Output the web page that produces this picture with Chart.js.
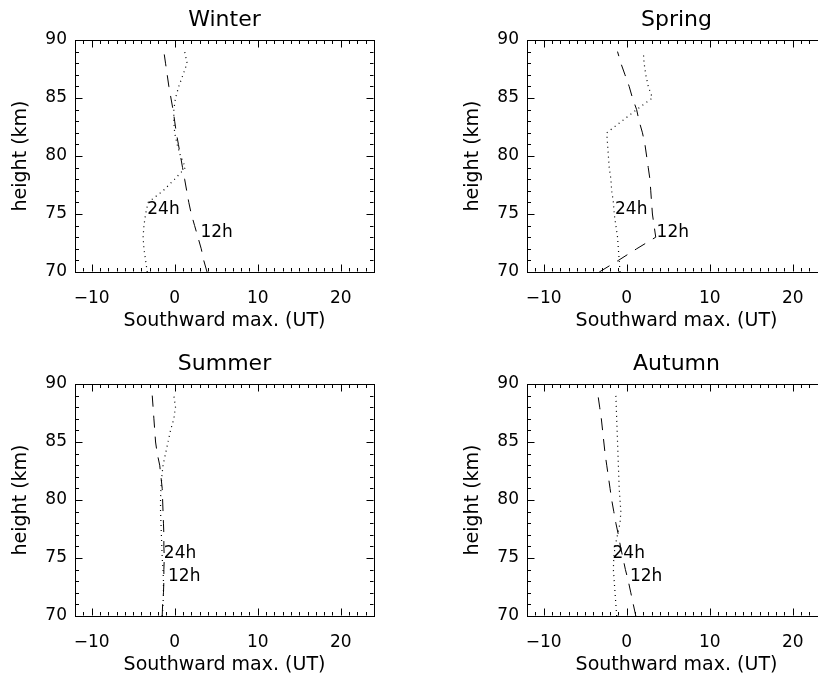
<!DOCTYPE html>
<html>
<head>
<meta charset="utf-8">
<title>Southward max. profiles</title>
<script src="https://cdn.jsdelivr.net/npm/chart.js@4.4.1/dist/chart.umd.min.js"></script>
<style>
  html, body { margin: 0; padding: 0; background: #fff; overflow: hidden; width: 818px; height: 678px; }
  canvas { position: absolute; }
</style>
</head>
<body>
<canvas id="winter" width="449" height="340" style="left:0px;top:0px"></canvas>
<canvas id="spring" width="449" height="340" style="left:452px;top:0px"></canvas>
<canvas id="summer" width="449" height="340" style="left:0px;top:344px"></canvas>
<canvas id="autumn" width="449" height="340" style="left:452px;top:344px"></canvas>
<script>
// heights (km), bottom to top
var heights = [70, 71, 72, 73, 74, 75, 76, 77, 78, 79, 80, 81, 82, 83, 84, 85, 86, 87, 88, 89];

// southward max. time (UT), one value per height
var winter12h = [3.9, 3.5, 3.2, 2.8, 2.4, 2.0, 1.7, 1.45, 1.2, 0.95, 0.7, 0.45, 0.2, 0.0, -0.2, -0.45, -0.7, -0.9, -1.1, -1.3];
var winter24h = [-3.3, -3.5, -3.7, -3.8, -3.7, -3.5, -3.2, -1.4, 0.0, 1.3, 0.7, 0.3, 0.0, -0.1, -0.1, 0.1, 0.5, 1.0, 1.5, 1.2];
var spring12h = [-3.3, -1.0, 1.2, 3.5, 3.3, 3.1, 3.0, 2.9, 2.8, 2.6, 2.4, 2.2, 1.9, 1.5, 1.2, 0.7, 0.3, -0.2, -0.7, -1.1];
var spring24h = [-0.8, -0.9, -1.0, -1.1, -1.3, -1.5, -1.6, -1.8, -1.9, -2.1, -2.2, -2.3, -2.4, -0.6, 1.2, 3.1, 2.6, 2.3, 2.1, 2.0];
var summer12h = [-1.5, -1.45, -1.35, -1.3, -1.3, -1.25, -1.3, -1.3, -1.35, -1.4, -1.45, -1.5, -1.65, -1.8, -2.1, -2.3, -2.4, -2.5, -2.6, -2.7];
var summer24h = [-1.5, -1.4, -1.35, -1.35, -1.4, -1.5, -1.55, -1.6, -1.65, -1.7, -1.7, -1.65, -1.55, -1.4, -1.1, -0.8, -0.5, -0.1, 0.1, -0.1];
var autumn12h = [1.1, 0.8, 0.5, 0.2, -0.15, -0.45, -0.75, -1.0, -1.3, -1.55, -1.8, -2.0, -2.2, -2.4, -2.6, -2.75, -2.9, -3.05, -3.25, -3.45];
var autumn24h = [-1.2, -1.3, -1.4, -1.5, -1.6, -1.55, -1.4, -1.1, -0.8, -0.7, -0.8, -0.9, -0.95, -1.0, -1.05, -1.1, -1.15, -1.2, -1.25, -1.3];

// where the curve names are written: [UT, km]
var label24h = { winter: [-3.3, 75], spring: [-1.4, 75], summer: [-1.3, 75], autumn: [-1.7, 75] };
var label12h = { winter: [3.1, 73], spring: [3.6, 73], summer: [-0.8, 73], autumn: [0.4, 73] };

var xTicks = [-10, 0, 10, 20];
var yTicks = [70, 75, 80, 85, 90];
var xRange = [-12, 24];
var yRange = [70, 90];

var FONT = "'DejaVu Sans', 'Liberation Sans', sans-serif";

function toPoints(xs) {
  return xs.map(function (v, i) { return { x: v, y: heights[i] }; });
}

// IDL style box: ticks point inwards on all four sides
var idlBox = {
  id: 'idlBox',
  afterDraw: function (chart) {
    var ctx = chart.ctx, a = chart.chartArea;
    var xs = chart.scales.x, ys = chart.scales.y;
    ctx.save();
    ctx.strokeStyle = '#000';
    ctx.lineWidth = 1;
    ctx.beginPath();
    var top = Math.round(a.top) + 0.5, bot = Math.round(a.bottom) - 0.5;
    var lft = Math.round(a.left) + 0.5, rgt = Math.round(a.right) - 0.5;
    ctx.moveTo(a.left, top); ctx.lineTo(a.right, top);
    for (var v = xRange[0]; v <= xRange[1]; v++) {
      var px = Math.round(xs.getPixelForValue(v)) + 0.5;
      var len = v % 10 === 0 ? 7 : 3.5;
      ctx.moveTo(px, bot); ctx.lineTo(px, bot - len);
      ctx.moveTo(px, top); ctx.lineTo(px, top + len);
    }
    for (var h = yRange[0]; h <= yRange[1]; h++) {
      var py = Math.round(ys.getPixelForValue(h)) + 0.5;
      var l2 = h % 5 === 0 ? 7 : 3.5;
      ctx.moveTo(lft, py); ctx.lineTo(lft + l2, py);
      ctx.moveTo(rgt, py); ctx.lineTo(rgt - l2, py);
    }
    ctx.stroke();
    ctx.restore();
  }
};

var curveNames = {
  id: 'curveNames',
  afterDatasetsDraw: function (chart, args, opts) {
    var ctx = chart.ctx;
    ctx.save();
    ctx.fillStyle = '#000';
    ctx.font = '17px ' + FONT;
    ctx.textAlign = 'left';
    ctx.textBaseline = 'alphabetic';
    (opts.items || []).forEach(function (it) {
      ctx.fillText(it.text, chart.scales.x.getPixelForValue(it.at[0]), chart.scales.y.getPixelForValue(it.at[1]));
    });
    ctx.restore();
  }
};

function fixTicks(list) {
  return function (scale) {
    scale.ticks = list.map(function (v) { return { value: v }; });
  };
}

function makePanel(id, title, d12, d24, key) {
  new Chart(id, {
    type: 'scatter',
    data: {
      datasets: [{
        label: '24h',
        data: toPoints(d24),
        showLine: true,
        borderColor: '#000',
        borderWidth: 1.2,
        borderDash: [1, 4],
        pointRadius: 0,
        fill: false
      }, {
        label: '12h',
        data: toPoints(d12),
        showLine: true,
        borderColor: '#000',
        borderWidth: 1,
        borderDash: [12, 9],
        pointRadius: 0,
        fill: false
      }]
    },
    options: {
      responsive: false,
      animation: false,
      devicePixelRatio: 1,
      layout: { padding: 0 },
      plugins: {
        legend: { display: false },
        tooltip: { enabled: false },
        title: {
          display: true,
          text: title,
          color: '#000',
          font: { family: FONT, size: 22, weight: 'normal', lineHeight: 1.2 },
          padding: { top: 6.8, bottom: 6.8 }
        },
        curveNames: {
          items: [
            { text: '24h', at: label24h[key] },
            { text: '12h', at: label12h[key] }
          ]
        }
      },
      scales: {
        x: {
          type: 'linear',
          position: 'bottom',
          min: xRange[0],
          max: xRange[1],
          afterBuildTicks: fixTicks(xTicks),
          afterFit: function (s) { s.height = 68; s.paddingLeft = 0; s.paddingRight = 0; },
          grid: { display: false, drawTicks: false },
          border: { display: true, color: '#000', width: 1 },
          ticks: {
            color: '#000',
            font: { family: FONT, size: 17 },
            padding: 16,
            maxRotation: 0,
            callback: function (v) { return String(v).replace('-', '\u2212'); }
          },
          title: {
            display: true,
            text: 'Southward max. (UT)',
            color: '#000',
            font: { family: FONT, size: 19, lineHeight: 1.2 },
            padding: { top: 0, bottom: 8 }
          }
        },
        y: {
          type: 'linear',
          position: 'left',
          min: yRange[0],
          max: yRange[1],
          afterBuildTicks: fixTicks(yTicks),
          afterFit: function (s) { s.width = 75; s.paddingTop = 0; s.paddingBottom = 0; },
          grid: { display: false, drawTicks: false },
          border: { display: true, color: '#000', width: 1 },
          ticks: {
            color: '#000',
            font: { family: FONT, size: 17 },
            padding: 8
          },
          title: {
            display: true,
            text: 'height (km)',
            color: '#000',
            font: { family: FONT, size: 19, lineHeight: 1.2 },
            padding: { top: 10, bottom: 0 }
          }
        },
        y2: {
          type: 'linear',
          position: 'right',
          min: yRange[0],
          max: yRange[1],
          afterFit: function (s) { s.width = 75; s.paddingTop = 0; s.paddingBottom = 0; },
          grid: { display: false, drawTicks: false },
          border: { display: true, color: '#000', width: 1 },
          ticks: { display: false }
        }
      }
    },
    plugins: [idlBox, curveNames]
  });
}

makePanel('winter', 'Winter', winter12h, winter24h, 'winter');
makePanel('spring', 'Spring', spring12h, spring24h, 'spring');
makePanel('summer', 'Summer', summer12h, summer24h, 'summer');
makePanel('autumn', 'Autumn', autumn12h, autumn24h, 'autumn');
</script>
</body>
</html>
